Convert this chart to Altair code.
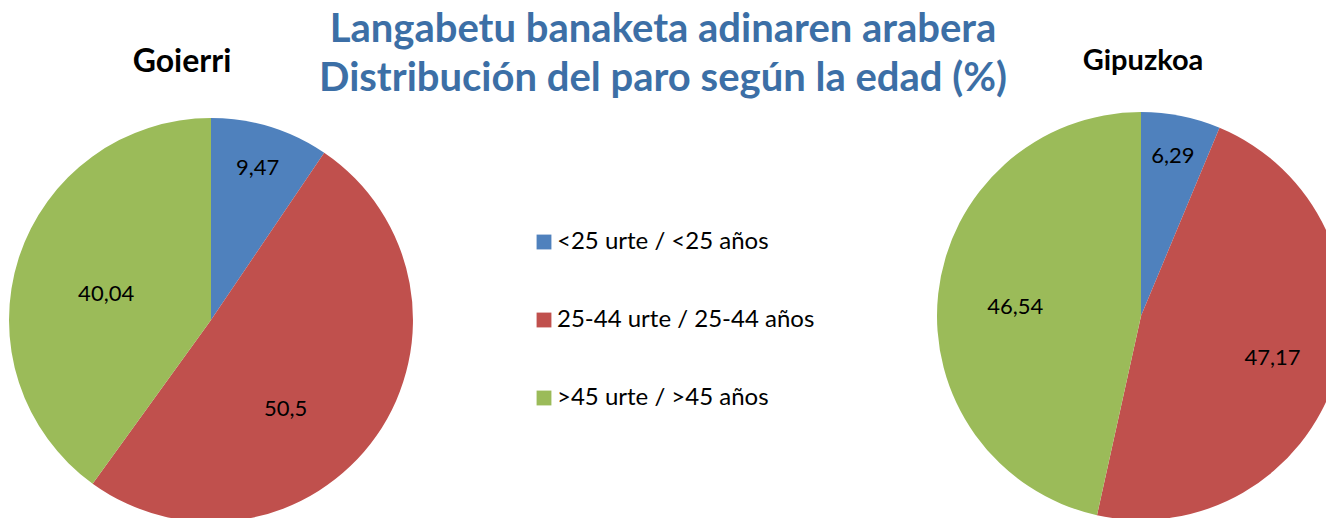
import altair as alt
import pandas as pd

categories = ["<25 urte / <25 años", "25-44 urte / 25-44 años", ">45 urte / >45 años"]
goierri = [9.47, 50.5, 40.04]
gipuzkoa = [6.29, 47.17, 46.54]
regions = ["Goierri", "Gipuzkoa"]
colors = ["#4F81BD", "#C0504D", "#9BBB59"]
title_lines = ["Langabetu banaketa adinaren arabera", "Distribución del paro según la edad (%)"]

rows = []
for reg, vals in zip(regions, [goierri, gipuzkoa]):
    for i, (c, v) in enumerate(zip(categories, vals)):
        rows.append({"region": reg, "cat": c, "idx": i, "value": v,
                     "label": ("%g" % v).replace(".", ",")})
df = pd.DataFrame(rows)

FONT = "Lato"
color = alt.Color("cat:N", scale=alt.Scale(domain=categories, range=colors),
                  sort=categories,
                  legend=alt.Legend(title=None, orient="none", legendX=524, legendY=222,
                                    symbolType="square", symbolSize=220, symbolStrokeWidth=0,
                                    labelFont=FONT, labelFontSize=24, labelColor="black",
                                    rowPadding=54, labelOffset=1, labelLimit=400))

base = alt.Chart(df)

def pie(reg, cx, cy, r, label_radii, label_shift):
    d = base.transform_filter(alt.datum.region == reg)
    arc = d.mark_arc(radius=r, stroke=None).encode(
        theta=alt.Theta("value:Q", stack=True),
        color=color,
        order=alt.Order("idx:Q"),
        x=alt.value(cx), y=alt.value(cy),
    )
    rexpr = "[" + ",".join(str(v) for v in label_radii) + "][datum.idx]"
    sexpr = "[" + ",".join(str(v) for v in label_shift) + "][datum.idx]"
    txt = d.transform_window(
        cum="sum(value)", sort=[alt.SortField("idx")]
    ).transform_joinaggregate(
        total="sum(value)"
    ).transform_calculate(
        frac="(datum.cum - datum.value / 2) / datum.total + " + sexpr, lr=rexpr
    ).mark_text(
        font=FONT, fontSize=22, color="black"
    ).encode(
        theta=alt.Theta("frac:Q", stack=None, scale=alt.Scale(domain=[0, 1])),
        radius=alt.Radius("lr:Q", scale=None),
        text="label:N",
        x=alt.value(cx), y=alt.value(cy),
    )
    return alt.layer(arc, txt).resolve_scale(theta="independent")

left = pie("Goierri", 203, 312, 202, [159, 116, 108], [0, 0.0414, -0.0114])
right = pie("Gipuzkoa", 1133, 308, 204, [163, 138, 126], [0, 0, -0.0058])

def text_layer(s, x, y, size, weight, col):
    return alt.Chart(pd.DataFrame({"t": [s]})).mark_text(
        font=FONT, fontSize=size, fontWeight=weight, color=col,
        baseline="middle", align="center"
    ).encode(text="t:N", x=alt.value(x), y=alt.value(y))

t1 = text_layer(title_lines[0], 655, 22, 40, "bold", "#3C6FA6")
t2 = text_layer(title_lines[1], 655, 71, 40, "bold", "#3C6FA6")
s1 = text_layer(regions[0], 174, 54, 32, "bold", "black")
s2 = text_layer(regions[1], 1135, 53, 29, "bold", "black")

chart = alt.layer(left, right, t1, t2, s1, s2).resolve_scale(
    theta="independent"
).properties(
    width=1318, height=510, autosize=alt.AutoSizeParams(type="none"), padding=0
).configure_view(stroke=None)

chart.save("out.html", embed_options={"renderer": "svg", "actions": False})
